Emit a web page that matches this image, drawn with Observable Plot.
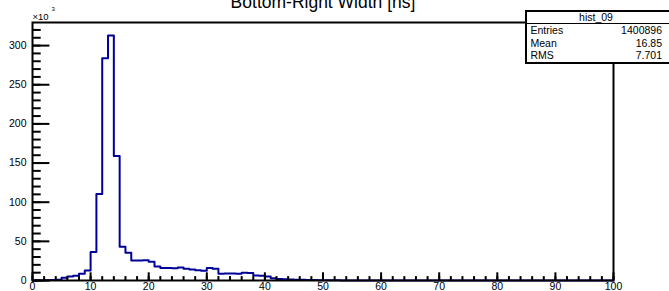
<!DOCTYPE html>
<html>
<head>
<meta charset="utf-8">
<script src="https://cdn.jsdelivr.net/npm/d3@7"></script>
<script src="https://cdn.jsdelivr.net/npm/@observablehq/plot@0.6"></script>
<style>
  html, body { margin: 0; padding: 0; background: #fff; overflow: hidden; }
  #wrap { position: relative; width: 669px; height: 291px; font-family: "Liberation Sans", Arial, Helvetica, sans-serif; }
  #stats { position: absolute; left: 525px; top: 10px; width: 150px; background: #fff;
           border: 2px solid #000; box-sizing: border-box; font-size: 10.5px; color: #000; }
  #stats .t { text-align: center; height: 11px; line-height: 11px; border-bottom: 1px solid #000; padding-right: 8px; }
  #stats .r { display: flex; justify-content: space-between; height: 12.5px; line-height: 12.5px; padding-left: 3.5px; padding-right: 11px; }
</style>
</head>
<body>
<div id="wrap"></div>
<script>
// Histogram hist_09: 100 bins of width 1 ns from 0 to 100, counts in thousands
const binEdges = d3.range(0, 101);
const counts = [
  0, 0, 0.2, 0.5, 1.0, 3.4, 5, 6, 8.5, 12.8,
  36.4, 110.5, 283.7, 313, 159, 43, 35.5, 25.5, 25.5, 26,
  24, 18, 16, 16, 15.5, 16.5, 15, 14, 13, 12.5,
  16, 15, 8.5, 9, 9, 8.5, 10, 9.5, 6.5, 6,
  5, 2.8, 1.8, 1.5, 1.2, 1.0, 0.8, 0.6, 0.5, 0.4,
  0.3, 0.25, 0.2, 0.15, 0.1, 0.08, 0.06, 0.05, 0.04, 0.03,
  0.03, 0.02, 0.02, 0.02, 0.01, 0.01, 0.01, 0.01, 0, 0,
  0, 0, 0, 0, 0, 0, 0, 0, 0, 0,
  0, 0, 0, 0, 0, 0, 0, 0, 0, 0,
  0, 0, 0, 0, 0, 0, 0, 0, 0, 0
];
const xMajor = [0, 10, 20, 30, 40, 50, 60, 70, 80, 90, 100];
const xMinor = d3.range(0, 101, 2);
const yMajor = [0, 50, 100, 150, 200, 250, 300];
const yMinor = d3.range(0, 330, 10);
const title = "Bottom-Right Width [ns]";
const statsName = "hist_09";
const statsLabels = ["Entries", "Mean", "RMS"];
const statsValues = ["1400896", "16.85", "7.701"];

const W = 669, H = 291;
const mL = 32, mR = 56, mT = 22, mB = 11;
const fw = W - mL - mR, fh = H - mT - mB;

// step outline: one point per bin edge
const steps = binEdges.map((e, i) => ({x: e, y: counts[Math.min(i, counts.length - 1)]}));

const chart = Plot.plot({
  width: W, height: H,
  marginLeft: mL, marginRight: mR, marginTop: mT, marginBottom: mB,
  style: {fontFamily: '"Liberation Sans", Arial, Helvetica, sans-serif', background: "#fff", overflow: "visible"},
  x: {domain: [0, 100]},
  y: {domain: [0, 329.5]},
  marks: [
    Plot.line(steps, {x: "x", y: "y", curve: "step-after", stroke: "#000099", strokeWidth: 2}),
    // y ticks (inside, pointing right)
    Plot.tickY(yMinor, {y: d => d, insetRight: fw - 8.7, stroke: "#000", strokeWidth: 2}),
    Plot.tickY(yMajor, {y: d => d, insetRight: fw - 17.4, stroke: "#000", strokeWidth: 2}),
    // x ticks (inside, pointing up)
    Plot.tickX(xMinor, {x: d => d, insetTop: fh - 3.9, stroke: "#000", strokeWidth: 2}),
    Plot.tickX(xMajor, {x: d => d, insetTop: fh - 7.7, stroke: "#000", strokeWidth: 2}),
    Plot.axisY(yMajor, {tickSize: 0, tickPadding: 6, fontSize: 10.5, fill: "#000", label: null}),
    Plot.axisX(xMajor, {tickSize: 0, tickPadding: 2, fontSize: 10.5, fill: "#000", label: null}),
    Plot.frame({stroke: "#000", strokeWidth: 2}),
    Plot.text([title], {frameAnchor: "top", dy: -15, lineAnchor: "bottom", fontSize: 17.5, fill: "#000"}),
    Plot.text(["×10"], {frameAnchor: "top-left", dy: -3, lineAnchor: "bottom", textAnchor: "start", fontSize: 9.5, fill: "#000"}),
    Plot.text(["3"], {frameAnchor: "top-left", dx: 19, dy: -12, lineAnchor: "bottom", textAnchor: "start", fontSize: 6, fill: "#000"})
  ]
});

const wrap = document.getElementById("wrap");
wrap.appendChild(chart);

const box = document.createElement("div");
box.id = "stats";
const t = document.createElement("div");
t.className = "t";
t.textContent = statsName;
box.appendChild(t);
statsLabels.forEach((l, i) => {
  const r = document.createElement("div");
  r.className = "r";
  const a = document.createElement("span"); a.textContent = l;
  const b = document.createElement("span"); b.textContent = statsValues[i];
  r.appendChild(a); r.appendChild(b);
  box.appendChild(r);
});
wrap.appendChild(box);
</script>
</body>
</html>
